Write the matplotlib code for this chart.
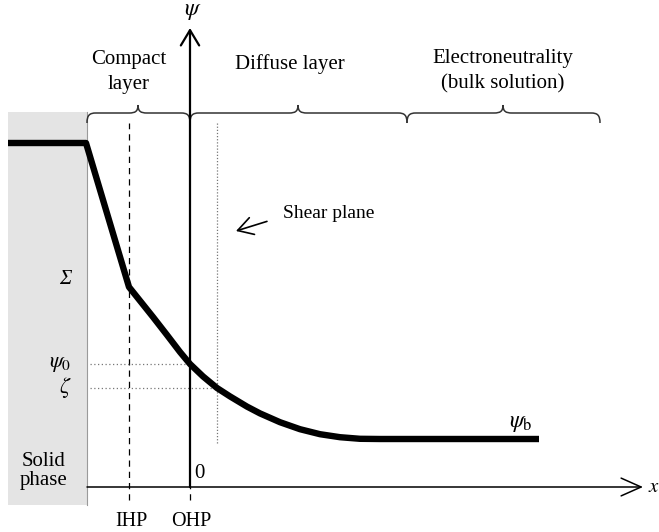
import matplotlib
matplotlib.use("Agg")
import matplotlib.pyplot as plt
from matplotlib.path import Path
from matplotlib.patches import PathPatch, Rectangle

plt.rcParams["font.family"] = ["Liberation Serif", "DejaVu Serif"]
plt.rcParams["mathtext.fontset"] = "stix"

# Potential profile across the interface (x: distance from the OHP, psi: potential)
profile_x = [-182, -104, -61, -37, -23, -10, 0, 13, 27, 40, 57, 70, 90, 110,
             130, 150, 170, 190, 349]
profile_psi = [344, 344, 200, 170, 152, 135, 123, 110.6, 99, 90.6, 80.4, 73.6, 64.8,
               57.8, 52.8, 49.8, 48.2, 48, 48]

# Characteristic planes and potentials
x_surface = -103
x_ihp = -61
x_ohp = 0
x_shear = 27
psi_sigma = 200
psi_0 = 123
zeta = 99
psi_b = 48

# Region labels and their extents along x
regions = ["Compact\nlayer", "Diffuse layer", "Electroneutrality\n(bulk solution)"]
region_bounds = [(-103, 0, -52), (0, 217, 108), (217, 410, 313)]

fig = plt.figure(figsize=(6.59, 5.32), dpi=100)
ax = fig.add_axes([0, 0, 1, 1])
ax.set_xlim(-190, 469)
ax.set_ylim(-45, 487)
ax.axis("off")

# Solid phase
ax.add_patch(Rectangle((-182, -18), x_surface + 182, 393, facecolor="#e4e4e4",
                       edgecolor="none", zorder=0))
ax.plot([x_surface, x_surface], [-18, 375], color="#9a9a9a", lw=0.8, zorder=1)

# Axes with open arrowheads
ax.annotate("", xy=(453, 0), xytext=(x_surface, 0),
            arrowprops=dict(arrowstyle="->,head_length=0.72,head_width=0.32",
                            mutation_scale=20, lw=1.1, color="black",
                            shrinkA=0, shrinkB=0), zorder=3)
ax.annotate("", xy=(0, 459), xytext=(0, 0),
            arrowprops=dict(arrowstyle="->,head_length=0.55,head_width=0.33",
                            mutation_scale=20, lw=1.6, color="black",
                            shrinkA=0, shrinkB=0), zorder=3)

# IHP / OHP / shear plane
ax.plot([x_ihp, x_ihp], [-13, 364], color="black", lw=0.9, ls=(0, (5, 4)), zorder=2)
ax.plot([x_ohp, x_ohp], [-13, 0], color="black", lw=0.9, ls=(0, (5, 4)), zorder=2)
ax.plot([x_shear, x_shear], [44, 364], color="#777777", lw=0.9, ls=(0, (1, 1.5)), zorder=2)
ax.plot([-100, x_ohp], [psi_0, psi_0], color="#777777", lw=0.9, ls=(0, (1, 2)), zorder=2)
ax.plot([-100, x_shear], [zeta, zeta], color="#777777", lw=0.9, ls=(0, (1, 2)), zorder=2)

# Potential profile
ax.plot(profile_x, profile_psi, color="black", lw=4.6, solid_joinstyle="round",
        solid_capstyle="butt", zorder=4)


def brace(x0, x1, xt, y, drop=10, rise=8, r=9):
    verts = [(x0, y - drop), (x0, y - drop * 0.2), (x0 + r * 0.3, y), (x0 + r, y),
             (xt - r, y),
             (xt - r * 0.3, y), (xt, y + rise * 0.2), (xt, y + rise),
             (xt, y + rise * 0.2), (xt + r * 0.3, y), (xt + r, y),
             (x1 - r, y),
             (x1 - r * 0.3, y), (x1, y - drop * 0.2), (x1, y - drop)]
    codes = [Path.MOVETO, Path.CURVE4, Path.CURVE4, Path.CURVE4,
             Path.LINETO,
             Path.CURVE4, Path.CURVE4, Path.CURVE4,
             Path.CURVE4, Path.CURVE4, Path.CURVE4,
             Path.LINETO,
             Path.CURVE4, Path.CURVE4, Path.CURVE4]
    ax.add_patch(PathPatch(Path(verts, codes), facecolor="none", edgecolor="#333333",
                           lw=1.1, zorder=2))


for (x0, x1, xt) in region_bounds:
    brace(x0, x1, xt, 374)

fs = 15
ax.text(-61, 415, regions[0], ha="center", va="center", fontsize=fs, linespacing=1.45)
ax.text(100, 423, regions[1], ha="center", va="center", fontsize=fs)
ax.text(313, 416, regions[2], ha="center", va="center", fontsize=fs, linespacing=1.45)

ax.text(3, 475, r"$\psi$", ha="center", va="center", fontsize=17)
ax.text(-125, 207, "Σ", ha="center", va="center", fontsize=15, style="italic")
ax.text(-130, psi_0, r"$\psi_0$", ha="center", va="center", fontsize=16)
ax.text(-125, zeta, r"$\zeta$", ha="center", va="center", fontsize=16)
ax.text(331, psi_b + 16, r"$\psi_{\mathrm{b}}$", ha="center", va="center", fontsize=17)
ax.text(458, 0, r"$x$", ha="left", va="center", fontsize=15)
ax.text(9, 14, "0", ha="center", va="center", fontsize=fs)
ax.text(-146, 16, "Solid\nphase", ha="center", va="center", fontsize=fs, linespacing=1.05)
ax.text(x_ihp + 2, -35, "IHP", ha="center", va="center", fontsize=14.5)
ax.text(x_ohp + 1, -35, "OHP", ha="center", va="center", fontsize=14.5)

ax.annotate("Shear plane", xy=(46, 256), xytext=(93, 274), ha="left", va="center",
            fontsize=14,
            arrowprops=dict(arrowstyle="->,head_length=0.6,head_width=0.35",
                            mutation_scale=18, lw=1.2, color="black",
                            shrinkA=10, shrinkB=0,
                            relpos=(0, 0.3)))

fig.savefig("out.png", dpi=100)
